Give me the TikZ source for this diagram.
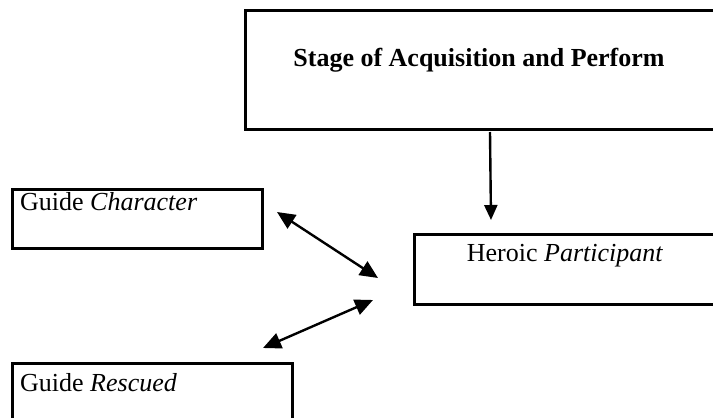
\documentclass[tikz,border=0pt]{standalone}
\usepackage{fontspec}
\setmainfont{Liberation Serif}
\usetikzlibrary{arrows.meta}
\begin{document}
\begin{tikzpicture}[x=1pt,y=-1pt,
  box/.style={draw=black,line width=2.5pt,rectangle,inner sep=0pt,anchor=north west},
  lbl/.style={inner sep=0pt,font=\fontsize{26}{30}\selectfont},
  conn/.style={line width=2.4pt,-{Triangle[length=15pt,width=13pt]}},
  dconn/.style={line width=2.4pt,{Triangle[length=18pt,width=16pt]}-{Triangle[length=18pt,width=16pt]}}]
\useasboundingbox (0,0) rectangle (713,418);
% boxes
\node[box,minimum width=480pt,minimum height=119pt] (stage) at (244,9) {};
\node[box,minimum width=320pt,minimum height=70pt] (hero) at (413,233) {};
\node[box,minimum width=250pt,minimum height=59pt] (gchar) at (11,188) {};
\node[box,minimum width=280pt,minimum height=70pt] (gres) at (11,362) {};
% texts
\node[lbl,anchor=base,font=\fontsize{26}{30}\selectfont\bfseries] (stagetxt) at (479,66) {Stage of Acquisition and Perform};
\node[lbl,anchor=base] (herotxt) at (565,261) {Heroic \textit{Participant}};
\node[lbl,anchor=base west] (gchartxt) at (20,210) {Guide \textit{Character}};
\node[lbl,anchor=base west] (grestxt) at (20,391) {Guide \textit{Rescued}};
% connector end points
\coordinate (d1) at (490,132);
\coordinate (d2) at (491,220);
\coordinate (a1) at (277,212);
\coordinate (a2) at (378,278);
\coordinate (b1) at (263,348);
\coordinate (b2) at (373,300);
\draw[conn] (d1) -- (d2);
\draw[dconn] (a1) -- (a2);
\draw[dconn] (b1) -- (b2);
\end{tikzpicture}
\end{document}
